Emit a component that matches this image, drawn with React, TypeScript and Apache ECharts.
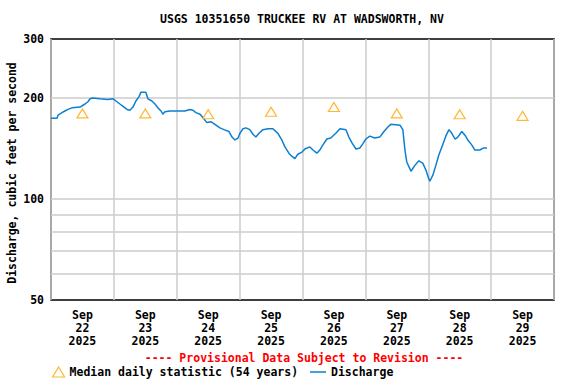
import React, { useEffect, useRef } from "react";
import * as echarts from "echarts";

// Hours since Sep 22 2025 00:00
const dischargeHours = [
  0, 2.3, 2.7, 4.2, 5.3, 6.5, 8.0, 11.1, 13.0, 14.1, 14.9, 16.0, 18.7, 21.7, 23.7,
  24.8, 26.3, 27.5, 29.0, 30.1, 31.3, 32.4, 33.6, 34.3, 36.2, 37.0, 38.5, 39.7, 40.8,
  42.0, 42.7, 43.5, 45.4, 51.1, 53.0, 54.2, 55.3, 56.9, 58.0, 59.5, 61.0, 63.0, 64.5,
  66.0, 67.9, 69.1, 70.2, 71.4, 72.1, 73.3, 74.4, 75.9, 77.1, 78.2, 79.4, 80.9, 82.8,
  84.7, 86.6, 88.1, 89.3, 90.8, 92.0, 93.1, 94.2, 95.8, 96.9, 98.8, 100.0, 101.5,
  102.6, 103.8, 105.3, 106.8, 108.7, 110.3, 112.6, 113.7, 114.9, 116.4, 117.9, 119.0,
  120.2, 121.7, 123.6, 125.5, 127.1, 128.6, 129.7, 133.2, 134.3, 135.1, 135.8, 137.0,
  137.4, 138.9, 140.4, 141.9, 143.1, 144.2, 144.6, 145.8, 146.9, 148.0, 149.2, 150.7,
  151.9, 153.0, 154.2, 155.3, 156.8, 158.0, 159.1, 160.6, 161.8, 163.7, 165.2, 166.4,
];
const dischargeValues = [
  174, 174, 178, 181, 183, 185, 187, 188, 192, 195, 199, 200, 199, 198, 199,
  196, 192, 189, 185, 184, 188, 196, 202, 208, 208, 199, 196, 192, 187,
  183, 179, 182, 183, 183, 185, 184, 181, 179, 175, 169, 170, 166, 163,
  161, 159, 153, 150, 152, 157, 162, 163, 161, 156, 153, 157, 161, 162,
  162, 157, 150, 143, 137, 134, 132, 136, 138, 141, 143, 140, 137,
  140, 145, 151, 152, 157, 162, 161, 153, 147, 141, 142, 146,
  151, 154, 152, 153, 159, 164, 167, 166, 161, 140, 129, 123,
  121, 126, 130, 128, 122, 115, 113, 118, 126, 135, 143, 154,
  161, 157, 151, 153, 159, 155, 150, 145, 140, 140, 142, 142,
];

const medianHours = [12, 36, 60, 84, 108, 132, 156, 180];
const medianValues = [180, 180, 179, 182, 188, 180, 179, 177];

const dayLabels = [
  "Sep\n22\n2025", "Sep\n23\n2025", "Sep\n24\n2025", "Sep\n25\n2025",
  "Sep\n26\n2025", "Sep\n27\n2025", "Sep\n28\n2025", "Sep\n29\n2025",
];
const yLabelValues = [50, 100, 200, 300];
const yGridValues = [60, 70, 80, 90, 100, 200];

const FONT = '"DejaVu Sans Mono", "Liberation Mono", monospace';
const BLUE = "#0b7fd0";
const ORANGE = "#ffa500";

export default function App() {
  const ref = useRef<HTMLDivElement>(null);
  useEffect(() => {
    if (!ref.current) return;
    const chart = echarts.init(ref.current, null, { renderer: "svg" });
    const txt = { fontFamily: FONT, fontSize: 11.5, fontWeight: "bold" as const, color: "#000" };
    chart.setOption({
      animation: false,
      backgroundColor: "#fff",
      title: [
        {
          text: "USGS 10351650 TRUCKEE RV AT WADSWORTH, NV",
          left: 302,
          top: 13,
          padding: 0,
          textAlign: "center",
          textStyle: { ...txt },
        },
        {
          text: "---- Provisional Data Subject to Revision ----",
          left: 304,
          top: 352,
          padding: 0,
          textAlign: "center",
          textStyle: { ...txt, color: "#ff0000" },
        },
      ],
      legend: [
        {
          left: 52,
          top: 366,
          padding: 0,
          itemWidth: 12,
          itemHeight: 10,
          textStyle: { ...txt },
          data: [
            {
              name: "Median daily statistic (54 years)",
              icon: "triangle",
              itemStyle: { color: "#fff", borderColor: ORANGE, borderWidth: 1.2 },
            },
          ],
        },
        {
          left: 310,
          top: 366,
          padding: 0,
          itemWidth: 16,
          itemHeight: 1.5,
          textStyle: { ...txt },
          data: [{ name: "Discharge", icon: "rect", itemStyle: { color: BLUE, borderWidth: 0 } }],
        },
      ],
      grid: {
        left: 51,
        right: 22,
        top: 39,
        bottom: 84,
        show: true,
        borderColor: "#000",
        borderWidth: 1.5,
        backgroundColor: "#fff",
        containLabel: false,
        outerBoundsMode: "none",
      },
      xAxis: [
        {
          type: "value",
          min: 0,
          max: 192,
          interval: 24,
          axisLine: { show: false },
          axisTick: { show: false },
          axisLabel: { show: false },
          splitLine: { show: true, lineStyle: { color: "#cccccc", width: 1.5 } },
        },
        {
          type: "category",
          position: "bottom",
          data: dayLabels,
          boundaryGap: true,
          axisLine: { show: false },
          axisTick: { show: false },
          splitLine: { show: false },
          axisLabel: { ...txt, margin: 8, lineHeight: 13, interval: 0 },
        },
      ],
      yAxis: {
        type: "log",
        logBase: 10,
        min: 50,
        max: 300,
        axisLine: { show: false },
        axisTick: { show: false, customValues: yGridValues },
        splitLine: { show: true, lineStyle: { color: "#cccccc", width: 1.5 } },
        axisLabel: { ...txt, margin: 7, customValues: yLabelValues },
        name: "Discharge, cubic feet per second",
        nameLocation: "middle",
        nameRotate: 90,
        nameGap: 33,
        nameMoveOverlap: false,
        nameTextStyle: { ...txt, padding: [0, 7, 0, 0] },
      },
      series: [
        {
          name: "Discharge",
          type: "line",
          xAxisIndex: 0,
          data: dischargeHours.map((h, i) => [h, dischargeValues[i]]),
          symbol: "none",
          lineStyle: { color: BLUE, width: 1.5 },
          itemStyle: { color: BLUE },
          z: 3,
        },
        {
          name: "Median daily statistic (54 years)",
          type: "scatter",
          xAxisIndex: 0,
          data: medianHours.map((h, i) => [h, medianValues[i]]),
          symbol: "triangle",
          symbolSize: [11, 9],
          itemStyle: { color: "#fff", borderColor: ORANGE, borderWidth: 1.2 },
          z: 4,
        },
      ],
    });
    return () => chart.dispose();
  }, []);
  return <div ref={ref} style={{ width: 576, height: 384, position: "absolute", left: 0, top: 0 }} />;
}
